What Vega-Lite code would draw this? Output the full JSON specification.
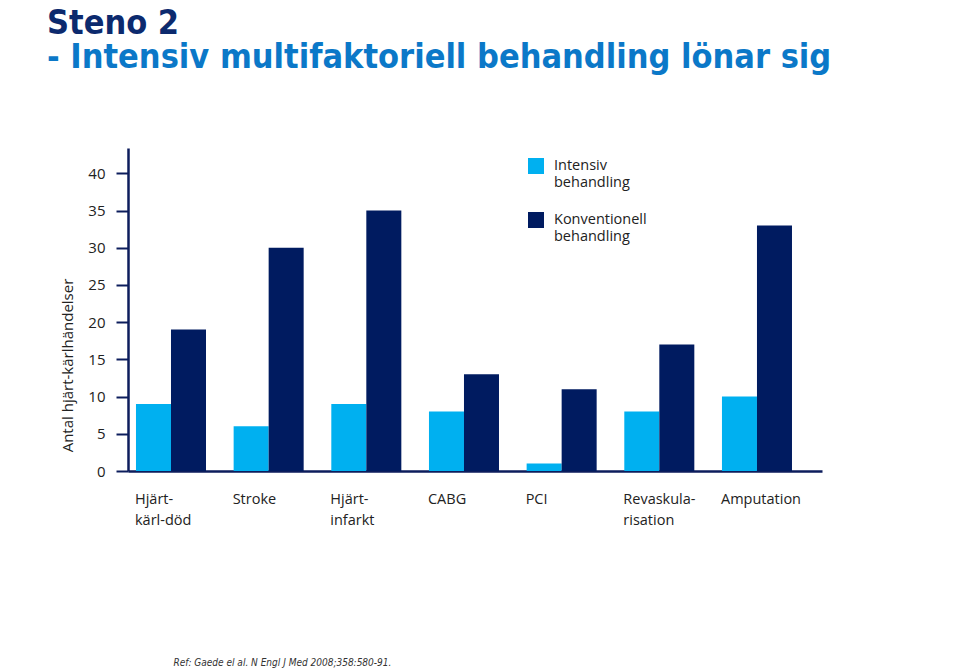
{
  "$schema": "https://vega.github.io/schema/vega-lite/v6.json",
  "autosize": {"type": "none"},
  "width": 694,
  "height": 323,
  "padding": {"left": 128, "top": 148, "right": 138, "bottom": 199},
  "background": "white",
  "title": {
    "text": "Steno 2",
    "subtitle": "- Intensiv multifaktoriell behandling lönar sig",
    "anchor": "start",
    "frame": "group",
    "dx": -81,
    "offset": 73,
    "font": "Liberation Sans Narrow, DejaVu Sans Condensed, sans-serif",
    "fontSize": 34,
    "fontWeight": "bold",
    "color": "#0c2a6e",
    "subtitleFont": "Liberation Sans Narrow, DejaVu Sans Condensed, sans-serif",
    "subtitleFontSize": 34,
    "subtitleFontWeight": "bold",
    "subtitleColor": "#0b78c8",
    "subtitlePadding": 0
  },
  "data": {
    "values": [
      {"kategori": "Hjärt-kärl-död", "behandling": "Intensiv behandling", "antal": 9},
      {"kategori": "Hjärt-kärl-död", "behandling": "Konventionell behandling", "antal": 19},
      {"kategori": "Stroke", "behandling": "Intensiv behandling", "antal": 6},
      {"kategori": "Stroke", "behandling": "Konventionell behandling", "antal": 30},
      {"kategori": "Hjärt-infarkt", "behandling": "Intensiv behandling", "antal": 9},
      {"kategori": "Hjärt-infarkt", "behandling": "Konventionell behandling", "antal": 35},
      {"kategori": "CABG", "behandling": "Intensiv behandling", "antal": 8},
      {"kategori": "CABG", "behandling": "Konventionell behandling", "antal": 13},
      {"kategori": "PCI", "behandling": "Intensiv behandling", "antal": 1},
      {"kategori": "PCI", "behandling": "Konventionell behandling", "antal": 11},
      {"kategori": "Revaskularisation", "behandling": "Intensiv behandling", "antal": 8},
      {"kategori": "Revaskularisation", "behandling": "Konventionell behandling", "antal": 17},
      {"kategori": "Amputation", "behandling": "Intensiv behandling", "antal": 10},
      {"kategori": "Amputation", "behandling": "Konventionell behandling", "antal": 33}
    ]
  },
  "mark": {"type": "bar"},
  "encoding": {
    "x": {
      "field": "kategori",
      "type": "nominal",
      "sort": null,
      "scale": {"paddingInner": 0.283, "paddingOuter": 0.1945, "align": 0.21},
      "axis": {
        "title": "Ref: Gaede el al. N Engl J Med 2008;358:580-91.",
        "titleFont": "Liberation Sans Narrow, DejaVu Sans Condensed, sans-serif",
        "titleFontSize": 10,
        "titleFontStyle": "italic",
        "titleFontWeight": "normal",
        "titleColor": "#333333",
        "titleAnchor": "start",
        "titleAlign": "left",
        "titleX": 45,
        "titleY": 186,
        "labelExpr": "datum.value == 'Hjärt-kärl-död' ? ['Hjärt-', 'kärl-död'] : datum.value == 'Hjärt-infarkt' ? ['Hjärt-', 'infarkt'] : datum.value == 'Revaskularisation' ? ['Revaskula-', 'risation'] : datum.value",
        "labelAngle": 0,
        "labelAlign": "left",
        "labelOffset": -36,
        "labelPadding": 21,
        "labelFont": "Open Sans, sans-serif",
        "labelFontSize": 14.5,
        "labelLineHeight": 21,
        "labelColor": "#222222",
        "ticks": false,
        "domainColor": "#0c1d5c",
        "domainWidth": 2.5
      }
    },
    "xOffset": {
      "field": "behandling",
      "type": "nominal",
      "scale": {"paddingInner": 0, "paddingOuter": 0}
    },
    "y": {
      "field": "antal",
      "type": "quantitative",
      "scale": {"domain": [0, 43.4], "nice": false},
      "axis": {
        "title": "Antal hjärt-kärlhändelser",
        "titleFont": "Open Sans, sans-serif",
        "titleFontSize": 15,
        "titleFontWeight": "normal",
        "titleColor": "#222222",
        "titleX": -53,
        "titleY": 217,
        "values": [0, 5, 10, 15, 20, 25, 30, 35, 40],
        "grid": false,
        "labelFont": "Open Sans, sans-serif",
        "labelFontSize": 15,
        "labelColor": "#222222",
        "labelPadding": 11,
        "tickColor": "#0c1d5c",
        "tickSize": 12,
        "tickWidth": 2,
        "domainColor": "#0c1d5c",
        "domainWidth": 2.5
      }
    },
    "color": {
      "field": "behandling",
      "type": "nominal",
      "scale": {
        "domain": ["Intensiv behandling", "Konventionell behandling"],
        "range": ["#00b0f0", "#001b60"]
      },
      "legend": {
        "title": null,
        "orient": "none",
        "legendX": 400,
        "legendY": 10,
        "symbolType": "square",
        "symbolSize": 256,
        "symbolStrokeWidth": 0,
        "symbolOpacity": 1,
        "labelExpr": "split(datum.label, ' ')",
        "labelFont": "Open Sans, sans-serif",
        "labelFontSize": 14.5,
        "labelLineHeight": 21,
        "labelColor": "#222222",
        "labelOffset": 10,
        "rowPadding": 23
      }
    }
  },
  "config": {"view": {"stroke": null}}
}
